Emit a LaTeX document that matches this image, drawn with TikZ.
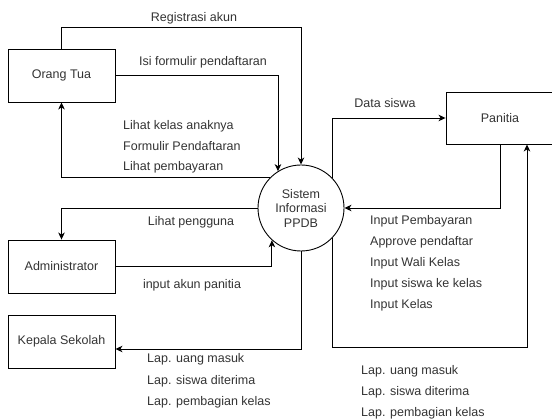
\documentclass[tikz,border=0pt]{standalone}
\usepackage{fontspec}
\setmainfont{Liberation Sans}
\usetikzlibrary{arrows.meta}
\definecolor{txt}{HTML}{333333}
\begin{document}
\begin{tikzpicture}[x=1pt,y=-1pt,
  every node/.style={font=\fontsize{12.5}{14.5}\selectfont, text=txt},
  ent/.style={draw, line width=0.9pt, minimum width=107pt, minimum height=53pt, inner sep=0pt},
  proc/.style={draw, circle, line width=0.9pt, minimum size=86pt, inner sep=0pt, align=center},
  lbl/.style={inner sep=0pt, anchor=west},
  lblc/.style={inner sep=0pt},
  arr/.style={line width=0.9pt, -{Stealth[length=7pt,width=6.5pt,inset=2pt]}},
  ln/.style={line width=0.9pt}]
\clip (0,0) rectangle (552,419);
\node[ent] (ot) at (61.5,75.5) {Orang Tua};
\node[ent] (adm) at (61.5,266.5) {Administrator};
\node[ent] (kep) at (61.5,341.5) {Kepala Sekolah};
\node[ent, minimum width=108pt, minimum height=52pt] (pan) at (500,118) {Panitia};
\node[proc] (c) at (301,208) {Sistem\\Informasi\\PPDB};

% Orang Tua flows
\draw[arr] (ot.north) -- ++(0,-21) -| (c.north);
\draw[arr] (ot.east) -| (c.122);
\draw[arr] (c.136) -| (ot.south);
% Administrator flows
\draw[arr] (c.west) -| (adm.north);
\draw[arr] (adm.east) -| (c.228);
% Kepala Sekolah
\draw[arr] (c.south) |- ([yshift=-7.5pt]kep.east);
% Panitia flows
\draw[arr] (c.44) |- (pan.west);
\draw[arr] (pan.south) |- (c.east);
\coordinate (q) at (527,347);
\draw[arr] (c.-44) |- (q) -- (q |- pan.south);

% labels
\node[lblc] (l1) at (194,18) {Registrasi akun};
\node[lblc] (l2) at (203,62) {Isi formulir pendaftaran};
\node[lbl] (l3) at (123,126) {Lihat kelas anaknya};
\node[lbl] (l4) at (123,146.5) {Formulir Pendaftaran};
\node[lbl] (l5) at (123,167) {Lihat pembayaran};
\node[lblc] (l6) at (191,222) {Lihat pengguna};
\node[lblc] (l7) at (192,285) {input akun panitia};
\node[lbl] (l8) at (147,359.5) {Lap. uang masuk};
\node[lbl] (l9) at (147,381) {Lap. siswa diterima};
\node[lbl] (l10) at (147,402) {Lap. pembagian kelas};
\node[lblc] (l11) at (385,103) {Data siswa};
\node[lbl] (l12) at (370,221.5) {Input Pembayaran};
\node[lbl] (l13) at (370,242.5) {Approve pendaftar};
\node[lbl] (l14) at (370,263.5) {Input Wali Kelas};
\node[lbl] (l15) at (370,284.5) {Input siswa ke kelas};
\node[lbl] (l16) at (370,305.5) {Input Kelas};
\node[lbl] (l17) at (361,371) {Lap. uang masuk};
\node[lbl] (l18) at (361,392) {Lap. siswa diterima};
\node[lbl] (l19) at (361,413) {Lap. pembagian kelas};
\end{tikzpicture}
\end{document}
